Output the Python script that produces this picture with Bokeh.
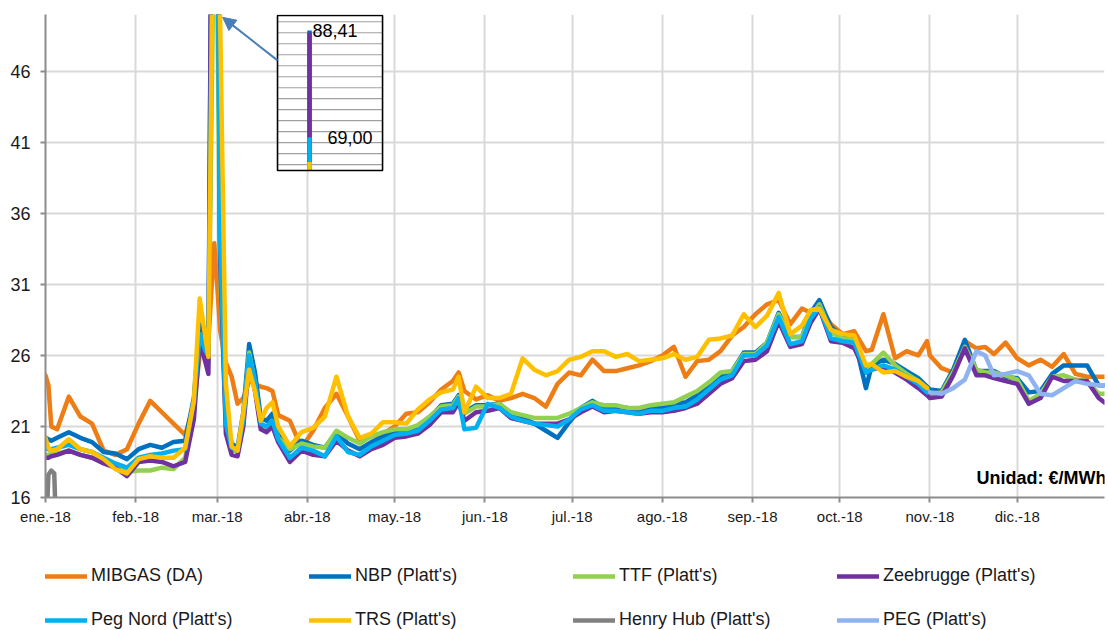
import numpy as np
from bokeh.plotting import figure
from bokeh.layouts import column
from bokeh.models import (ColumnDataSource, Range1d, FixedTicker, Legend, LegendItem,
                          Label, Arrow, NormalHead)
from bokeh.embed import file_html
from bokeh.resources import INLINE

# ---------------- data ----------------
# day of year 2018 (0 = 1 Jan)
days = [0, 1, 2, 4, 8,
        12, 16, 20, 24, 28,
        32, 36, 40, 44, 48,
        51, 53, 55, 56, 58,
        59, 60, 62, 64, 66,
        68, 70, 72, 74, 76,
        78, 80, 84, 88, 92,
        96, 100, 104, 108, 112,
        116, 120, 124, 128, 132,
        136, 140, 142, 144, 148,
        152, 156, 160, 164, 168,
        172, 176, 180, 184, 188,
        192, 196, 200, 204, 208,
        212, 216, 220, 224, 228,
        232, 236, 240, 244, 248,
        252, 256, 260, 263, 266,
        270, 274, 278, 282, 284,
        288, 292, 296, 300, 303,
        304, 308, 312, 316, 320,
        323, 326, 330, 334, 338,
        342, 346, 350, 354, 358,
        362, 364]

month_days = [0, 31, 59, 90, 120, 151, 181, 212, 243, 273, 304, 334]
month_labels = ["ene.-18", "feb.-18", "mar.-18", "abr.-18", "may.-18", "jun.-18",
                "jul.-18", "ago.-18", "sep.-18", "oct.-18", "nov.-18", "dic.-18"]
y_ticks = [16, 21, 26, 31, 36, 41, 46]

mibgas = [24.6, 23.9, 21.0, 20.8, 23.1,
          21.7, 21.2, 19.3, 19.0, 19.4,
          21.2, 22.8, 22.0, 21.2, 20.4,
          22.5, 26.0, 26.5, 27.0, 33.9,
          31.0, 27.8, 25.5, 24.5, 22.6,
          23.0, 24.2, 24.0, 23.8, 23.7,
          23.5, 21.8, 21.4, 19.5, 20.7,
          22.3, 23.3, 21.7, 20.0, 20.3,
          20.5, 21.0, 21.9, 22.0, 22.7,
          23.6, 24.2, 24.8, 23.5, 22.9,
          23.2, 22.8, 23.0, 23.3, 23.0,
          22.4, 24.0, 24.8, 24.6, 25.7,
          24.9, 24.9, 25.1, 25.3, 25.6,
          26.0, 26.6, 24.5, 25.6, 25.7,
          26.3, 27.4, 28.0, 28.9, 29.6,
          29.9, 28.2, 29.3, 29.0, 29.4,
          28.2, 27.5, 27.7, 26.3, 26.4,
          28.9, 25.8, 26.3, 26.0, 27.0,
          26.0, 25.1, 24.8, 27.0, 26.5,
          26.6, 26.1, 26.9, 25.8, 25.3,
          25.7, 25.2, 26.1, 24.7, 24.5,
          24.5, 24.5]

nbp = [20.2, 20.1, 20.0, 20.2, 20.6,
       20.2, 19.9, 19.2, 19.1, 18.7,
       19.4, 19.7, 19.5, 19.9, 20.0,
       23.0, 28.2, 26.6, 26.1, 88.41,
       70.0, 34.0, 21.6, 19.8, 19.5,
       22.0, 26.8, 24.8, 21.6, 21.4,
       21.9, 20.5, 19.3, 20.0, 19.7,
       19.5, 20.6, 19.8, 19.4, 19.9,
       20.3, 20.7, 20.7, 20.9, 21.6,
       22.5, 22.6, 23.2, 22.0, 22.5,
       22.5, 22.6, 21.9, 21.6, 21.2,
       20.7, 20.2, 21.3, 22.3, 22.8,
       22.3, 22.4, 22.3, 22.1, 22.3,
       22.3, 22.6, 22.7, 23.2, 23.9,
       24.5, 24.9, 26.2, 26.2, 26.9,
       29.0, 27.3, 27.3, 29.0, 29.9,
       28.0, 27.3, 27.2, 23.7, 25.3,
       25.7, 25.4, 24.9, 24.4, 23.8,
       23.6, 23.5, 25.0, 27.1, 24.9,
       24.9, 24.9, 24.5, 24.4, 23.4,
       23.5, 24.7, 25.3, 25.3, 25.3,
       23.9, 23.9]

ttf = [19.0, 19.0, 19.1, 19.1, 19.3,
       19.0, 18.8, 18.5, 18.2, 17.8,
       17.9, 17.9, 18.1, 18.0, 18.8,
       22.0, 27.5, 25.8, 25.5, 58.0,
       52.0, 32.0, 21.0, 19.3, 19.2,
       21.5, 26.2, 24.0, 20.9, 20.8,
       21.3, 20.2, 19.4, 19.8, 19.6,
       19.5, 20.7, 20.2, 19.8, 20.3,
       20.6, 20.8, 20.8, 21.1, 21.7,
       22.4, 22.5, 23.1, 21.9, 22.4,
       22.4, 22.6, 22.0, 21.8, 21.6,
       21.6, 21.6, 21.9, 22.3, 22.7,
       22.5, 22.5, 22.3, 22.3, 22.5,
       22.6, 22.7, 23.1, 23.5, 24.1,
       24.8, 24.9, 26.1, 26.1, 26.9,
       28.9, 27.3, 27.3, 28.7, 29.6,
       27.6, 27.2, 27.1, 25.0, 25.4,
       26.2, 25.3, 24.7, 24.2, 23.6,
       23.3, 23.4, 24.8, 26.6, 25.0,
       24.8, 24.8, 24.6, 24.3, 22.8,
       23.3, 24.5, 24.6, 24.3, 24.2,
       23.3, 23.3]

zeebrugge = [18.8, 18.8, 18.9, 19.0, 19.3,
             19.0, 18.8, 18.4, 18.1, 17.5,
             18.5, 18.6, 18.5, 18.2, 18.5,
             21.5, 27.0, 25.5, 24.7, 88.0,
             68.0, 33.0, 20.5, 19.0, 18.9,
             21.0, 25.5, 23.5, 20.8, 20.6,
             21.0, 19.9, 18.5, 19.3, 19.0,
             18.9, 20.0, 19.3, 18.9, 19.4,
             19.7, 20.2, 20.3, 20.5, 21.1,
             22.0, 22.0, 22.7, 21.4, 22.0,
             22.1, 22.3, 21.6, 21.4, 21.2,
             21.2, 21.2, 21.5, 22.0, 22.4,
             22.0, 22.1, 22.0, 21.9, 22.0,
             22.0, 22.1, 22.3, 22.6, 23.3,
             24.0, 24.4, 25.6, 25.7, 26.3,
             28.4, 26.6, 26.8, 28.3, 29.3,
             27.0, 26.9, 26.5, 24.8, 25.0,
             25.2, 24.8, 24.3, 23.7, 23.2,
             23.0, 23.1, 24.6, 26.5, 24.6,
             24.6, 24.4, 24.2, 24.0, 22.6,
             23.0, 24.5, 24.2, 24.2, 24.2,
             23.0, 22.7]

peg_nord = [19.5, 19.4, 19.4, 19.5, 19.7,
            19.4, 19.2, 18.8, 18.4, 18.1,
            18.8, 19.0, 19.1, 19.3, 19.4,
            22.8, 27.5, 26.3, 26.0, 69.00,
            60.0, 34.0, 21.2, 19.5, 19.3,
            21.5, 26.0, 24.2, 21.2, 21.0,
            21.4, 20.1, 18.8, 19.5, 19.3,
            18.9, 20.3, 19.2, 19.0, 19.6,
            20.0, 20.4, 20.5, 20.7, 21.4,
            22.2, 22.3, 23.0, 20.8, 20.9,
            22.6, 22.3, 21.7, 21.4, 21.2,
            21.1, 21.0, 21.5, 22.2, 22.5,
            22.1, 22.1, 22.0, 21.9, 22.1,
            22.1, 22.3, 22.4, 22.9, 23.6,
            24.3, 24.6, 26.0, 26.0, 26.7,
            28.7, 26.8, 27.0, 28.6, 29.4,
            27.2, 27.0, 26.9, 24.8, 25.0,
            25.3, 25.0, 24.5, 24.0, 23.4,
            None, None, None, None, None,
            None, None, None, None, None,
            None, None, None, None, None,
            None, None]

trs = [20.2, 19.5, 19.3, 19.4, 20.1,
       19.4, 19.2, 18.7, 18.0, 17.7,
       18.7, 18.9, 18.8, 18.8, 19.5,
       22.8, 30.0, 27.2, 25.9, 64.5,
       60.0, 50.0, 24.0, 19.6, 19.3,
       22.0, 25.0, 23.5, 21.4, 22.3,
       22.7, 21.0, 19.6, 20.6, 20.9,
       21.7, 24.5, 21.7, 20.2, 20.5,
       21.3, 21.3, 21.2, 22.2, 22.9,
       23.4, 23.6, 24.5, 22.0, 23.8,
       23.0, 23.0, 23.3, 25.8, 25.0,
       24.6, 24.9, 25.7, 25.9, 26.3,
       26.3, 25.9, 26.1, 25.6, 25.7,
       25.8, 26.1, 25.7, 25.9, 27.1,
       27.2, 27.4, 28.9, 28.0, 28.8,
       30.4, 27.5, 28.1, 29.2, 29.3,
       27.8, 27.5, 27.4, 25.3, 25.4,
       24.8, 24.9, 24.5, 24.2, 23.7,
       None, None, None, None, None,
       None, None, None, None, None,
       None, None, None, None, None,
       None, None]

peg = [None] * 90 + [
       23.4, 23.3, 23.7, 24.3, 26.3,
       26.0, 24.6, 24.7, 24.9, 24.6,
       23.3, 23.2, 23.7, 24.2, 24.0,
       23.9, 23.9]

hh_days = [0, 1, 2, 3, 4, 8, 15, 31, 46, 59, 75, 90, 120, 151, 181, 212, 243, 273,
           304, 319, 334, 349, 364]
henry_hub = [12.5, 17.6, 17.9, 17.7, 11.5, 9.8, 10.5, 9.5, 8.5, 8.3, 8.0, 8.6, 9.0,
             8.8, 8.3, 8.3, 8.4, 9.2, 10.5, 13.5, 12.0, 10.0, 9.0]

series_names = ["MIBGAS (DA)", "NBP (Platt's)", "TTF (Platt's)", "Zeebrugge (Platt's)",
                "Peg Nord (Platt's)", "TRS (Platt's)", "Henry Hub (Platt's)", "PEG (Platt's)"]
series_colors = ["#EE7D15", "#0070C0", "#92D050", "#7030A0",
                 "#00B0F0", "#FFC000", "#808080", "#8FB3F0"]
unit_text = "Unidad: €/MWh"

# ---------------- layout constants ----------------
FONT = "Liberation Sans"
TEXT_C = "#1A1A1A"
AXIS_C = "#8C8C8C"
GRID_C = "#D9D9D9"
ARROW_C = "#4A7EBB"
LW = 4.5
MAIN_BOTTOM = 40
LEGEND_H = 93

# inset (annotation) geometry
INSET_RANGE = (3.46, 91.32)
INSET_LEFT, INSET_RIGHT = 79.75, 115.85
INSET_BOTTOM, INSET_TOP = 62.94, 91.14
SPIKE_X = 90.75

# ---------------- main figure ----------------
p = figure(frame_width=1059, frame_height=483,
           x_range=Range1d(0, 364), y_range=Range1d(16, 50),
           output_backend="svg", toolbar_location=None,
           min_border_left=45, min_border_right=4, min_border_top=14,
           min_border_bottom=MAIN_BOTTOM)
p.outline_line_color = None
p.background_fill_color = "white"
p.border_fill_color = "white"

p.xaxis.ticker = FixedTicker(ticks=month_days)
p.xaxis.major_label_overrides = {d: l for d, l in zip(month_days, month_labels)}
p.yaxis.ticker = FixedTicker(ticks=y_ticks)

for ax in (p.xaxis[0], p.yaxis[0]):
    ax.axis_line_color = AXIS_C
    ax.axis_line_width = 2
    ax.major_tick_line_color = AXIS_C
    ax.major_tick_line_width = 2
    ax.major_tick_out = 5
    ax.major_tick_in = 0
    ax.minor_tick_line_color = None
    ax.major_label_text_font = FONT
    ax.major_label_text_color = TEXT_C
p.xaxis.major_label_text_font_size = "15px"
p.yaxis.major_label_text_font_size = "18px"
p.xaxis.major_label_standoff = 5
p.yaxis.major_label_standoff = 10

for g in (p.xgrid[0], p.ygrid[0]):
    g.grid_line_color = GRID_C
    g.grid_line_width = 2

source = ColumnDataSource(dict(
    day=days,
    mibgas=np.array(mibgas, dtype=float),
    nbp=np.array(nbp, dtype=float),
    ttf=np.array(ttf, dtype=float),
    zee=np.array(zeebrugge, dtype=float),
    pegnord=np.array(peg_nord, dtype=float),
    trs=np.array(trs, dtype=float),
    peg=np.array(peg, dtype=float),
))
hh_source = ColumnDataSource(dict(day=hh_days, hh=henry_hub))

keys = ["mibgas", "nbp", "ttf", "zee", "pegnord", "trs", "hh", "peg"]
for key, color in zip(keys, series_colors):
    src = hh_source if key == "hh" else source
    p.line("day", key, source=src, line_color=color, line_width=LW,
           line_join="round", line_cap="round")

p.add_layout(Label(x=364.7, y=17.34, text=unit_text, text_font=FONT,
                   text_font_size="18px", text_font_style="bold", text_color="black",
                   text_align="right", text_baseline="middle"))

# ---------------- inset (zoom of the spike) ----------------
p.extra_y_ranges = {"inset": Range1d(*INSET_RANGE)}
p.quad(left=[INSET_LEFT], right=[INSET_RIGHT], bottom=[INSET_BOTTOM], top=[INSET_TOP],
       y_range_name="inset", fill_color="white", line_color=None)
levels = list(range(64, 91, 2))
p.segment(x0=[INSET_LEFT] * len(levels), x1=[INSET_RIGHT] * len(levels),
          y0=levels, y1=levels, y_range_name="inset", line_color="#A0A0A0", line_width=1.2)
peaks = {}
for key, color in zip(keys, series_colors):
    if key in ("mibgas", "hh", "peg"):
        continue
    pk = float(np.nanmax(source.data[key]))
    peaks[key] = pk
    if pk > INSET_BOTTOM:
        p.segment(x0=[SPIKE_X], x1=[SPIKE_X], y0=[INSET_BOTTOM], y1=[pk],
                  y_range_name="inset", line_color=color, line_width=4.5)
p.quad(left=[INSET_LEFT], right=[INSET_RIGHT], bottom=[INSET_BOTTOM], top=[INSET_TOP],
       y_range_name="inset", fill_color=None, line_color="black", line_width=1.6)


def fmt(v):
    return f"{v:.2f}".replace(".", ",")


p.add_layout(Label(x=SPIKE_X + 1.0, y=peaks["nbp"], y_range_name="inset",
                   text=fmt(peaks["nbp"]), text_font=FONT, text_font_size="18px",
                   text_color="black", text_baseline="middle"))
p.add_layout(Label(x=SPIKE_X + 6.2, y=peaks["pegnord"], y_range_name="inset",
                   text=fmt(peaks["pegnord"]), text_font=FONT, text_font_size="18px",
                   text_color="black", text_baseline="middle"))

p.add_layout(Arrow(end=NormalHead(size=13, fill_color=ARROW_C, line_color=ARROW_C),
                   x_start=INSET_LEFT, y_start=46.77, x_end=60.9, y_end=49.8,
                   line_color=ARROW_C, line_width=2))

# ---------------- legend strip ----------------
# the legend proxies reuse the series data; the strip's ranges keep them out of view
lg = figure(width=1108, height=LEGEND_H, x_range=Range1d(-2, -1), y_range=Range1d(-2, -1),
            output_backend="svg", toolbar_location=None,
            x_axis_location=None, y_axis_location=None,
            min_border_left=0, min_border_right=0, min_border_top=0, min_border_bottom=0)
lg.outline_line_color = None
lg.xgrid.visible = False
lg.ygrid.visible = False
lg.background_fill_color = "white"
lg.border_fill_color = "white"
items = []
for key, name, color in zip(keys, series_names, series_colors):
    src = hh_source if key == "hh" else source
    r = lg.line("day", key, source=src, line_color=color, line_width=LW, line_cap="round")
    items.append(LegendItem(label=name, renderers=[r]))
legend = Legend(items=items, ncols=4, orientation="horizontal", location=(0, 0),
                glyph_width=42, glyph_height=20, label_standoff=4,
                label_width=195, label_height=20, spacing=23,
                padding=0, margin=0, border_line_color=None,
                background_fill_alpha=0,
                label_text_font=FONT, label_text_font_size="18px",
                label_text_color=TEXT_C)
lg.add_layout(legend, "center")

layout = column(p, lg, spacing=0)
open("out.html", "w").write(file_html(layout, INLINE))
